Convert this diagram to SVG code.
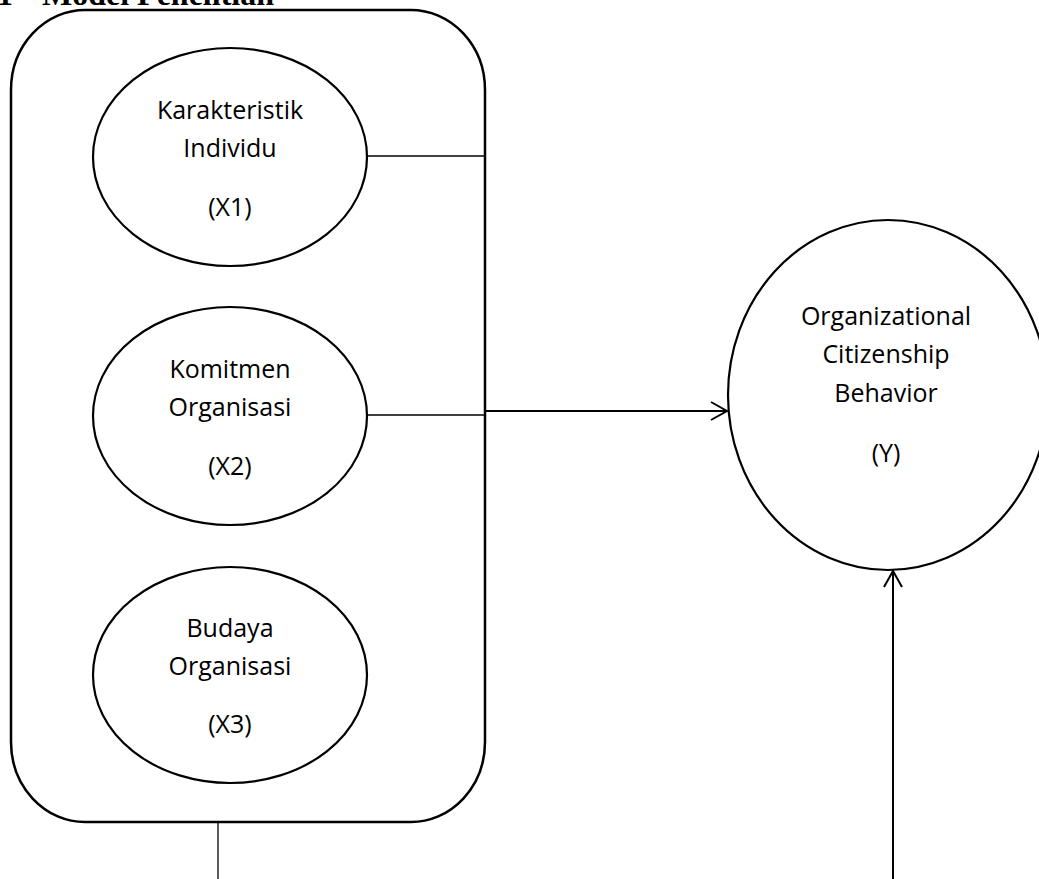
<svg xmlns="http://www.w3.org/2000/svg" width="1039" height="879" viewBox="0 0 1039 879">
<style>
.node{fill:#fff;stroke:#000;stroke-width:2.2}
.lbl{font-family:"Open Sans","Noto Sans",sans-serif;font-size:25px;fill:#000;text-anchor:middle}
.thin{stroke:#000;stroke-width:1.3;fill:none}
.arr{stroke:#000;stroke-width:2;fill:none}
.title{font-family:"Liberation Serif",serif;font-weight:bold;font-size:32px;fill:#000}
</style>
<defs>
<marker id="open" viewBox="0 0 20 20" refX="18" refY="10" markerWidth="20" markerHeight="20" markerUnits="userSpaceOnUse" orient="auto">
<path d="M2,1 L18,10 L2,19" fill="none" stroke="#000" stroke-width="2"/>
</marker>
</defs>
<text class="title" x="-3" y="5">1</text>
<text class="title" x="42" y="5">Model Penelitian</text>
<g id="group-box">
<rect x="11" y="10" width="474" height="812" rx="74" ry="80" fill="#fff" stroke="#000" stroke-width="2.5"/>
</g>
<g id="connectors">
<line class="thin" x1="366" y1="156" x2="485" y2="156"/>
<line class="thin" x1="366" y1="415" x2="485" y2="415"/>
<line class="arr" x1="485" y1="411" x2="727" y2="411" marker-end="url(#open)"/>
<line class="thin" x1="218" y1="822" x2="218" y2="879"/>
<line class="arr" x1="893" y1="879" x2="893" y2="571" marker-end="url(#open)"/>
</g>
<g id="x1">
<ellipse class="node" cx="230" cy="157" rx="137" ry="109"/>
<text class="lbl" x="230" y="119">Karakteristik</text>
<text class="lbl" x="230" y="157">Individu</text>
<text class="lbl" x="230" y="216">(X1)</text>
</g>
<g id="x2">
<ellipse class="node" cx="230" cy="416" rx="137" ry="109"/>
<text class="lbl" x="230" y="378">Komitmen</text>
<text class="lbl" x="230" y="416">Organisasi</text>
<text class="lbl" x="230" y="475">(X2)</text>
</g>
<g id="x3">
<ellipse class="node" cx="230" cy="675" rx="137" ry="108"/>
<text class="lbl" x="230" y="637">Budaya</text>
<text class="lbl" x="230" y="675">Organisasi</text>
<text class="lbl" x="230" y="733">(X3)</text>
</g>
<g id="y">
<ellipse class="node" cx="888" cy="395" rx="160" ry="175"/>
<text class="lbl" x="886" y="325">Organizational</text>
<text class="lbl" x="886" y="363">Citizenship</text>
<text class="lbl" x="886" y="402">Behavior</text>
<text class="lbl" x="886" y="462">(Y)</text>
</g>
</svg>
